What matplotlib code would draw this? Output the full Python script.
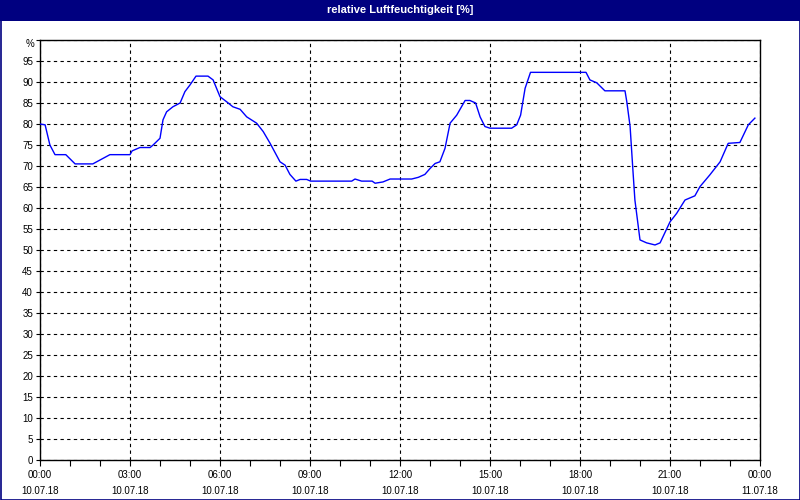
import matplotlib
matplotlib.use("Agg")
import matplotlib.pyplot as plt
from matplotlib.patches import Rectangle
from matplotlib.transforms import offset_copy

title = "relative Luftfeuchtigkeit [%]"

hours = [0.0, 0.17, 0.33, 0.5, 0.86, 1.17, 1.76, 2.33, 3.0, 3.07, 3.33, 3.67, 3.77, 4.0,
         4.1, 4.22, 4.43, 4.67, 4.83, 5.0, 5.2, 5.6, 5.77, 6.0, 6.22, 6.43, 6.67, 6.89,
         7.22, 7.44, 7.67, 8.0, 8.17, 8.33, 8.53, 8.67, 8.89, 9.02, 10.39, 10.5, 10.72,
         11.07, 11.17, 11.43, 11.67, 12.39, 12.61, 12.83, 13.0, 13.17, 13.33, 13.5, 13.67,
         13.89, 14.17, 14.33, 14.52, 14.67, 14.83, 15.0, 15.72, 15.89, 16.02, 16.17, 16.35,
         18.2, 18.33, 18.56, 18.83, 19.5, 19.56, 19.67, 19.76, 19.83, 20.0, 20.22, 20.5,
         20.67, 21.0, 21.22, 21.5, 21.83, 22.0, 22.33, 22.67, 22.94, 23.33, 23.61, 23.83]
humidity = [80.0, 79.8, 75.0, 72.7, 72.7, 70.5, 70.5, 72.7, 72.7, 73.6, 74.4, 74.4, 75.0, 76.6,
            81.0, 82.9, 84.1, 85.0, 87.7, 89.3, 91.4, 91.4, 90.5, 86.5, 85.3, 84.1, 83.5, 81.7,
            80.2, 78.2, 75.4, 71.0, 70.2, 68.0, 66.4, 66.8, 66.8, 66.4, 66.4, 66.9, 66.4,
            66.4, 65.9, 66.2, 66.9, 66.9, 67.3, 68.0, 69.4, 70.6, 71.0, 74.2, 80.2,
            82.1, 85.6, 85.6, 85.0, 81.7, 79.4, 79.0, 79.0, 79.8, 82.1, 88.5, 92.3,
            92.3, 90.5, 89.8, 87.9, 87.9, 85.3, 79.4, 69.4, 61.9, 52.4, 51.7, 51.2,
            51.7, 56.7, 58.7, 61.9, 62.9, 65.1, 67.9, 71.0, 75.4, 75.6, 79.8, 81.4]

x_ticks = [0, 3, 6, 9, 12, 15, 18, 21, 24]
x_labels = ["00:00\n10.07.18", "03:00\n10.07.18", "06:00\n10.07.18", "09:00\n10.07.18",
            "12:00\n10.07.18", "15:00\n10.07.18", "18:00\n10.07.18", "21:00\n10.07.18",
            "00:00\n11.07.18"]
y_ticks = list(range(0, 100, 5))
y_labels = [str(v) for v in y_ticks]
unit_label = "%"

plt.rcParams['font.family'] = ['Liberation Sans', 'DejaVu Sans']
fig = plt.figure(figsize=(8, 5), dpi=100)
fig.patch.set_facecolor("white")

# title bar
fig.patches.append(Rectangle((0, 1 - 21 / 500), 1, 21 / 500, transform=fig.transFigure,
                             facecolor="#000080", edgecolor="none", zorder=0))
fig.patches.append(Rectangle((0.5 / 800, 0.5 / 500), 1 - 1 / 800, 1 - 1 / 500, transform=fig.transFigure,
                             facecolor="none", edgecolor="#000080", linewidth=1.2, zorder=5))
fig.text(0.5, 1 - 10 / 500, title, color="white", ha="center", va="center",
         fontsize=8, fontweight="bold")

ax = fig.add_axes([40 / 800, 40 / 500, 720 / 800, 420 / 500])
ax.plot(hours, humidity, color="#0000FF", linewidth=1.0, zorder=3)
ax.set_xlim(0, 24)
ax.set_ylim(0, 100)
ax.set_xticks(x_ticks)
ax.set_xticklabels(x_labels, fontsize=7, linespacing=1.75)
ax.set_xticks(range(0, 25), minor=True)
ax.set_yticks(y_ticks + [100])
ax.set_yticklabels(y_labels + [""], fontsize=7)
ax.text(-0.005, 100, unit_label, fontsize=7, ha="right", va="center",
        transform=offset_copy(ax.get_yaxis_transform(), fig=fig, x=-2, y=-4, units="dots"))
ax.tick_params(axis="x", which="both", direction="out", length=4, width=0.8, pad=3)
ax.tick_params(axis="y", which="both", direction="out", length=3, width=0.8, pad=2)
ax.grid(True, which="major", color="black", linestyle=(0, (3, 3)), linewidth=0.8)
for s in ax.spines.values():
    s.set_color("black")
    s.set_linewidth(1.0)

fig.savefig("out.png", dpi=100)
